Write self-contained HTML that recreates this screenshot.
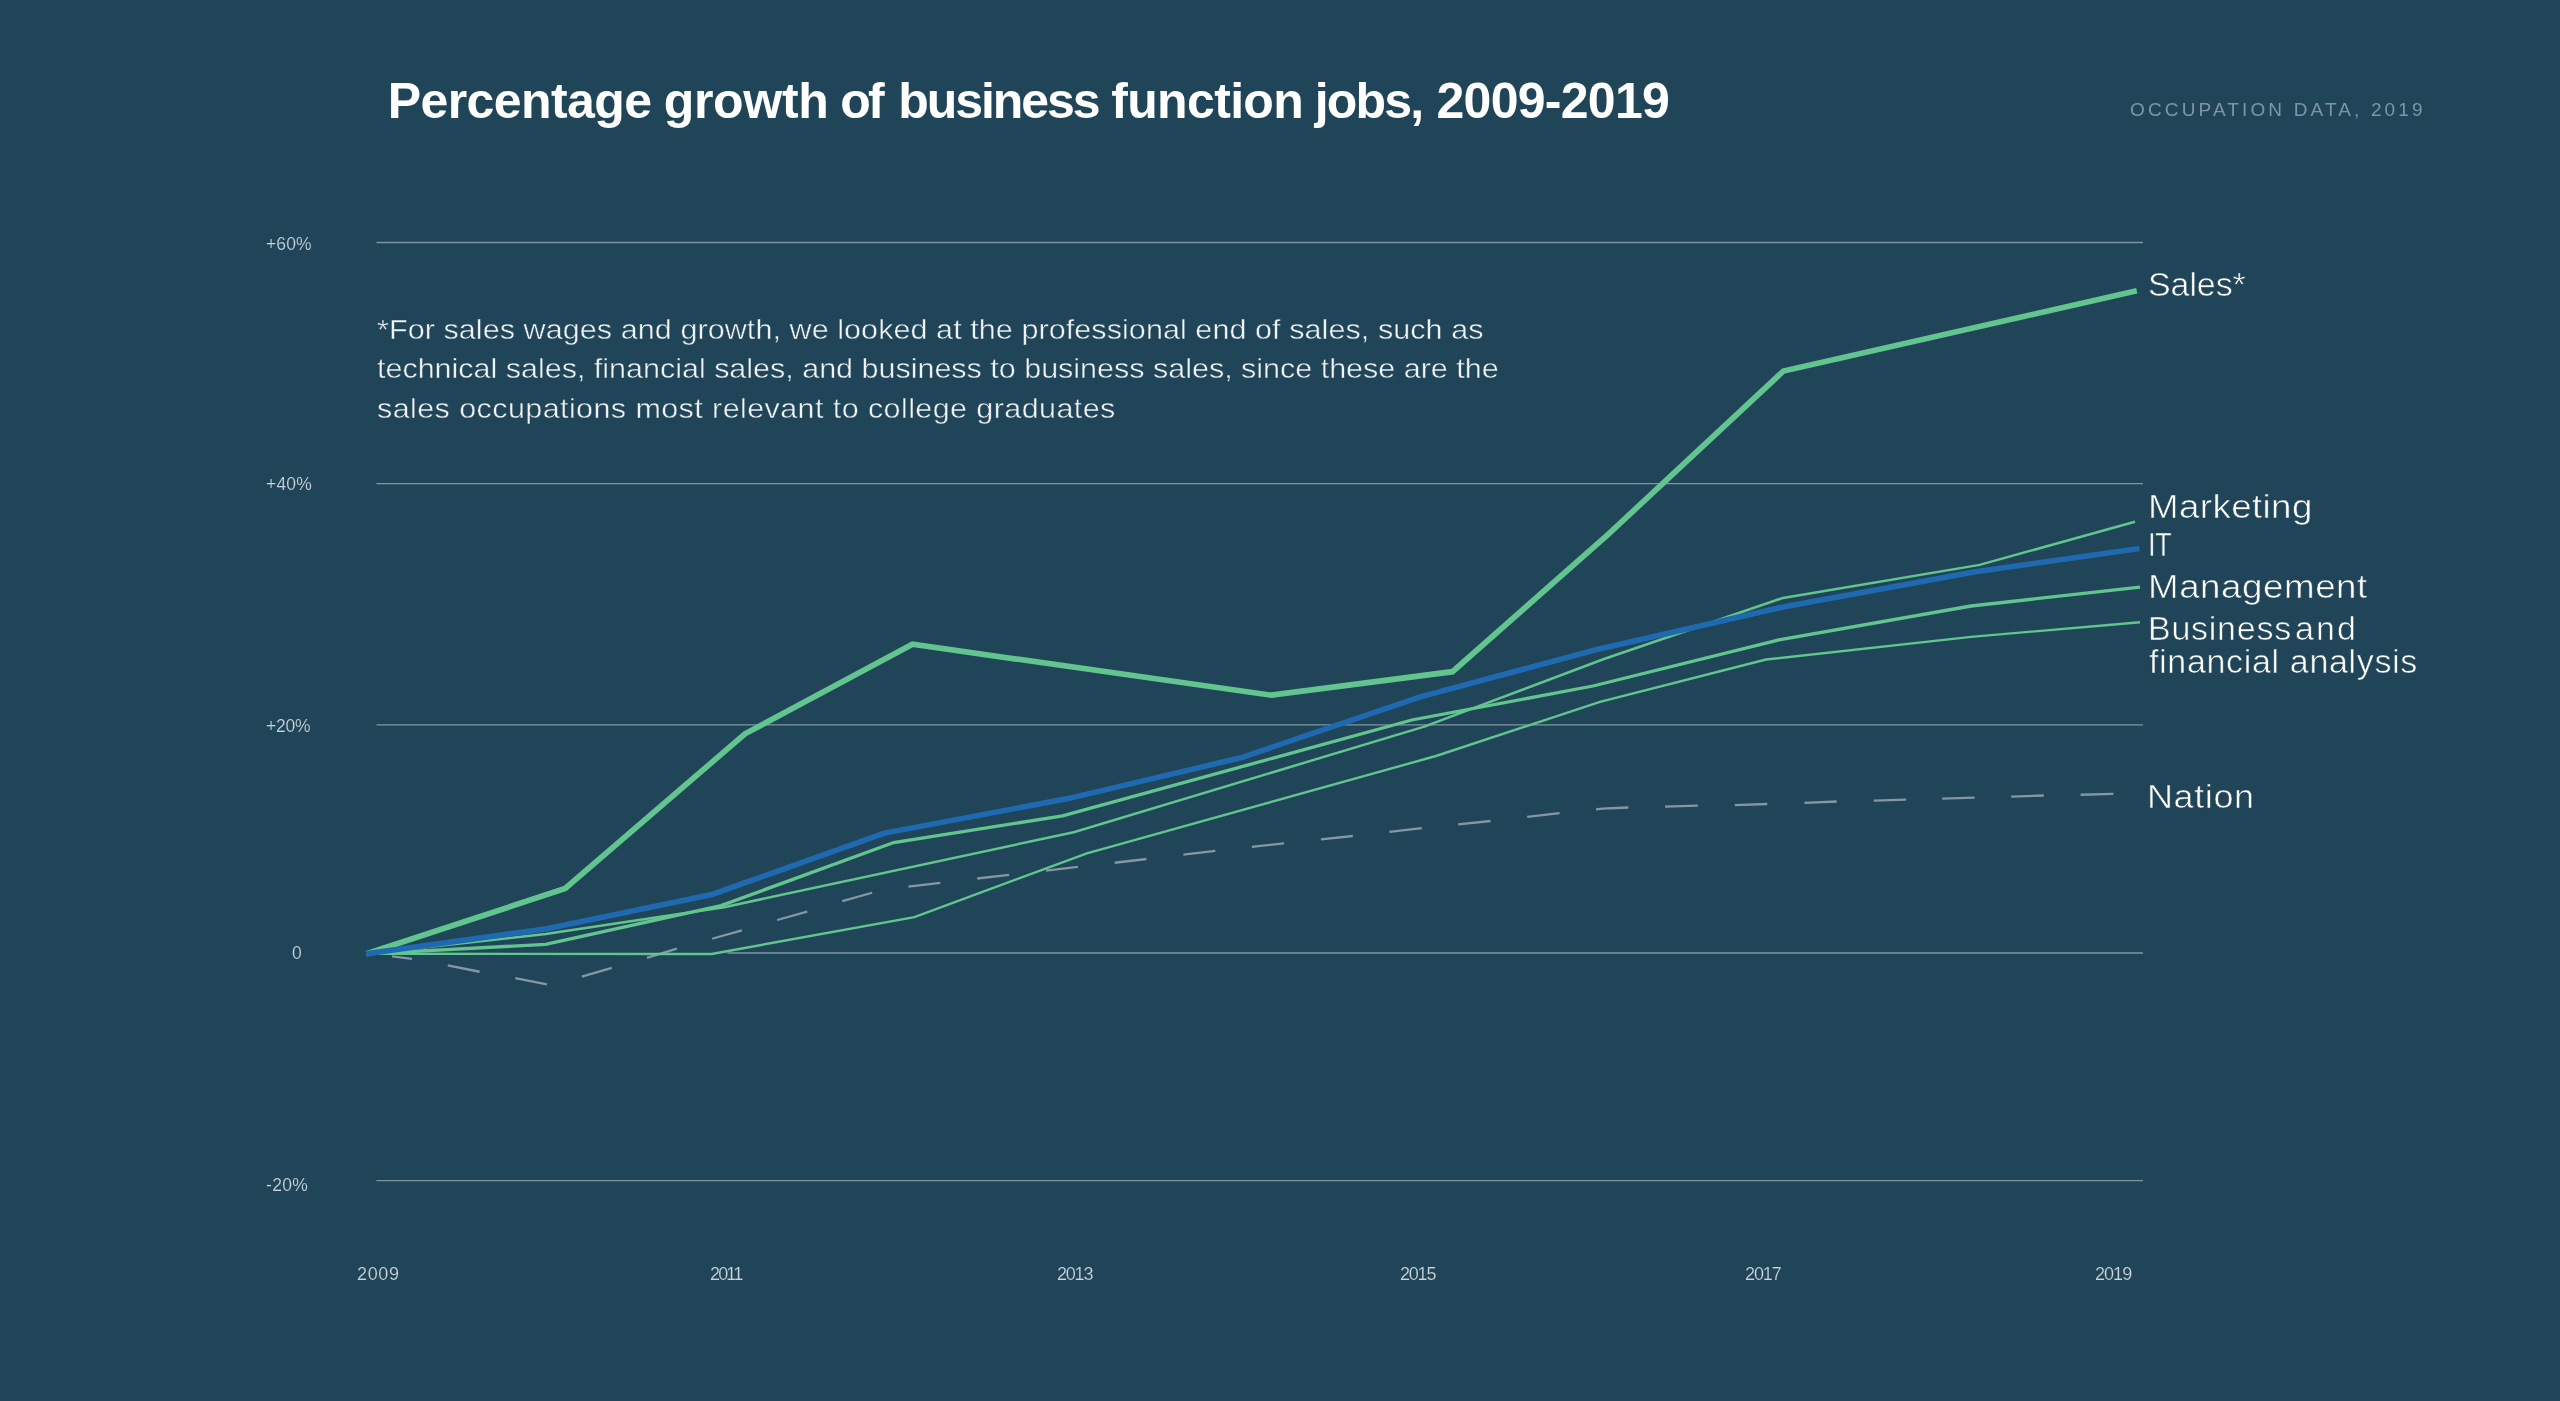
<!DOCTYPE html>
<html>
<head>
<meta charset="utf-8">
<title>Percentage growth of business function jobs, 2009-2019</title>
<style>
  html, body { margin: 0; padding: 0; }
  body { width: 2560px; height: 1401px; background: #214558; overflow: hidden; position: relative;
         font-family: "Liberation Sans", sans-serif; }
  svg { position: absolute; left: 0; top: 0; }
  .t { position: absolute; white-space: nowrap; line-height: 1; margin: 0; will-change: transform; }
  #title { left: 0; top: 76px; width: 2000px; height: 50px; font-size: 50px; font-weight: bold; color: #ffffff; }
  #title span { position: absolute; top: 0; }
  .src { color: #7e96a4; }
  .ax { color: #ccd6dc; -webkit-text-stroke: 0.18px #214558; }
  .note { color: #f0f4f6; -webkit-text-stroke: 0.45px #214558; }
  .lb { color: #ffffff; -webkit-text-stroke: 0.6px #214558; }
</style>
</head>
<body>
<svg width="2560" height="1401" viewBox="0 0 2560 1401">
  <g stroke="#8094a1" stroke-width="1.3" fill="none">
    <line x1="376.5" y1="242.5" x2="2143" y2="242.5"/>
    <line x1="376.5" y1="483.7" x2="2143" y2="483.7"/>
    <line x1="376.5" y1="724.8" x2="2143" y2="724.8"/>
    <line x1="727.5" y1="953.0" x2="2143" y2="953.0"/>
    <line x1="376.5" y1="1180.7" x2="2143" y2="1180.7"/>
  </g>
  <g stroke="#8597a3" stroke-width="2.3" fill="none">
    <line x1="392" y1="956.3" x2="412" y2="958.9"/>
    <line x1="447.75" y1="965.4" x2="479.6" y2="971.75"/>
    <line x1="515.25" y1="978.1" x2="546.9" y2="984.3"/>
    <line x1="581.8" y1="976.6" x2="611.8" y2="967.8"/>
    <line x1="646.9" y1="957.9" x2="676.9" y2="948.7"/>
    <line x1="712.1" y1="938.75" x2="741.9" y2="930.3"/>
    <line x1="777.2" y1="920" x2="807.2" y2="911.6"/>
    <line x1="842.2" y1="901.2" x2="872.2" y2="892.75"/>
    <line x1="908.4" y1="886.6" x2="940.25" y2="882.8"/>
    <line x1="977.2" y1="878.5" x2="1009.1" y2="874.9"/>
    <line x1="1046" y1="870.6" x2="1077.9" y2="866.9"/>
    <line x1="1114.6" y1="862.75" x2="1146.5" y2="859"/>
    <line x1="1183.4" y1="854.7" x2="1215.3" y2="850.9"/>
    <line x1="1251.9" y1="846.8" x2="1284.1" y2="843.4"/>
    <line x1="1320.9" y1="839.4" x2="1352.8" y2="836"/>
    <line x1="1389.4" y1="831.9" x2="1421.8" y2="828.1"/>
    <line x1="1458.2" y1="824.4" x2="1490.6" y2="821"/>
    <line x1="1527.2" y1="816.9" x2="1559.6" y2="813.1"/>
    <line x1="1665" y1="806.6" x2="1697.8" y2="805.6"/>
    <line x1="1734.75" y1="805.1" x2="1767.3" y2="804.0"/>
    <line x1="1804.4" y1="802.8" x2="1836.8" y2="801.5"/>
    <line x1="1873.75" y1="800.6" x2="1906.2" y2="799.6"/>
    <line x1="1942.2" y1="798.7" x2="1974.6" y2="797.6"/>
    <line x1="2011.2" y1="796.6" x2="2043.8" y2="795.5"/>
    <line x1="2080.6" y1="794.75" x2="2113.4" y2="793.8"/>
    <polyline points="1596,809.4 1602.2,808.6 1628.4,807.5"/>
  </g>
  <polyline fill="none" stroke="#62c58f" stroke-width="2.4" stroke-linejoin="miter" points="366.5,953.8 711.7,954.0 914.4,917.1 1086.9,853.4 1436,756 1600,701.8 1766,659.5 1971,636.9 2140,622.2"/>
  <polyline fill="none" stroke="#62c58f" stroke-width="2.5" stroke-linejoin="miter" points="366.5,953.8 545.6,934.1 724,907.2 1073.75,832.2 1424.3,726.6 1604,659 1783,597.9 1979.6,564.9 2135,521.8"/>
  <polyline fill="none" stroke="#62c58f" stroke-width="3.3" stroke-linejoin="miter" points="366.5,953.8 545.6,944.4 721,905.6 893.75,842.5 1062.5,815.9 1411.8,720 1593,686 1779,639.8 1971,606 2140,587.2"/>
  <polyline fill="none" stroke="#62c58f" stroke-width="5.7" stroke-linejoin="miter" points="366.5,953.8 565.2,888.5 745,733.8 912.5,644.3 1271.5,695.2 1452.5,671.7 1609,533.6 1783.5,371 2136.8,290.8"/>
  <polyline fill="none" stroke="#1f69b0" stroke-width="5.6" stroke-linejoin="miter" points="366,953.8 545.6,929 712,894.5 884.4,833.1 1068,798.6 1240.7,757.8 1419.5,697.1 1595,650 1783,606.9 1975.3,571.8 2139.5,548.5"/>
</svg>
<div class="t" id="title"><span style="left:387.75px;letter-spacing:-0.586px">Percentage</span> <span style="left:663.75px;letter-spacing:-0.317px">growth</span> <span style="left:840.25px;letter-spacing:-2.792px">of</span> <span style="left:898.25px;letter-spacing:-2.063px">business</span> <span style="left:1111.25px;letter-spacing:-0.661px">function</span> <span style="left:1314.75px;letter-spacing:-1.821px">jobs,</span> <span style="left:1436.5px;letter-spacing:-0.725px">2009-2019</span></div>
<div class="t ax" style="left:265.85px;top:236.0px;font-size:17.5px;letter-spacing:0.1px;">+60%</div>
<div class="t ax" style="left:265.85px;top:476.0px;font-size:17.5px;letter-spacing:0.167px;">+40%</div>
<div class="t ax" style="left:265.85px;top:717.9px;font-size:17.5px;letter-spacing:-0.2px;">+20%</div>
<div class="t ax" style="left:291.9px;top:945.2px;font-size:17.5px;letter-spacing:0px;">0</div>
<div class="t ax" style="left:266.0px;top:1177.2px;font-size:17.5px;letter-spacing:0.317px;">-20%</div>
<div class="t ax" style="left:356.75px;top:1265.4px;font-size:18px;letter-spacing:0.667px;">2009</div>
<div class="t ax" style="left:710.45px;top:1265.4px;font-size:18px;letter-spacing:-1.833px;">2011</div>
<div class="t ax" style="left:1056.85px;top:1265.4px;font-size:18px;letter-spacing:-1.2px;">2013</div>
<div class="t ax" style="left:1399.75px;top:1265.4px;font-size:18px;letter-spacing:-1.2px;">2015</div>
<div class="t ax" style="left:1745.35px;top:1265.4px;font-size:18px;letter-spacing:-1.133px;">2017</div>
<div class="t ax" style="left:2094.75px;top:1265.4px;font-size:18px;letter-spacing:-0.967px;">2019</div>
<div class="t src" style="left:2130.25px;top:100.0px;font-size:19px;letter-spacing:3.138px;">OCCUPATION DATA, 2019</div>
<div class="t note" style="left:377.46px;top:315.5px;font-size:28px;letter-spacing:0.063px;transform:scaleX(1.09);transform-origin:0 0;">*For sales wages and growth, we looked at the professional end of sales, such as</div>
<div class="t note" style="left:377.46px;top:355px;font-size:28px;letter-spacing:-0.016px;transform:scaleX(1.09);transform-origin:0 0;">technical sales, financial sales, and business to business sales, since these are the</div>
<div class="t note" style="left:377.18px;top:394.5px;font-size:28px;letter-spacing:0.373px;transform:scaleX(1.09);transform-origin:0 0;">sales occupations most relevant to college graduates</div>
<div class="t lb" style="left:2148.3px;top:267.0px;font-size:34px;letter-spacing:-0.09px;">Sales*</div>
<div class="t lb" style="left:2147.53px;top:488.7px;font-size:34px;letter-spacing:0.36px;transform:scaleX(1.08);transform-origin:0 0;">Marketing</div>
<div class="t lb" style="left:2148.4px;top:527px;font-size:34px;letter-spacing:-0.5px;transform:scaleX(0.8);transform-origin:0 0;">IT</div>
<div class="t lb" style="left:2147.53px;top:568.8px;font-size:34px;letter-spacing:0.51px;transform:scaleX(1.08);transform-origin:0 0;">Management</div>
<div class="t lb" style="left:2147.75px;top:610.6px;font-size:34px;letter-spacing:0.743px;">Business</div>
<div class="t lb" style="left:2294.8px;top:610.6px;font-size:34px;letter-spacing:2.05px;">and</div>
<div class="t lb" style="left:2149.3px;top:644.2px;font-size:34px;letter-spacing:0.662px;">financial analysis</div>
<div class="t lb" style="left:2147.39px;top:778.8px;font-size:34px;letter-spacing:0.539px;transform:scaleX(1.06);transform-origin:0 0;">Nation</div>
</body>
</html>
